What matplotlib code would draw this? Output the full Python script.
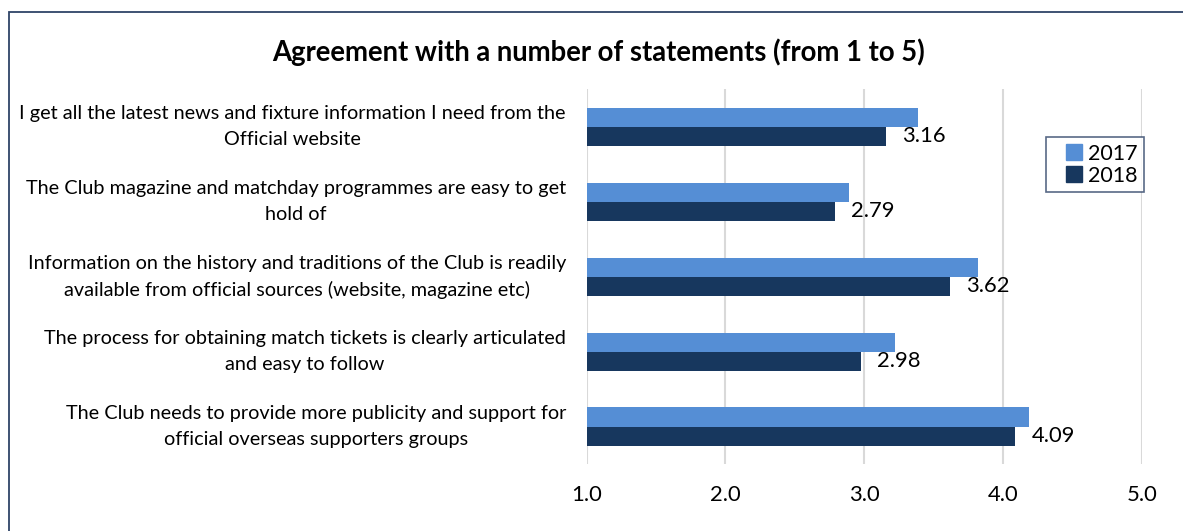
import numpy as np
import matplotlib
matplotlib.use("Agg")
import matplotlib.pyplot as plt
from matplotlib.patches import Rectangle
from matplotlib.lines import Line2D

statements = [
    "I get all the latest news and fixture information I need from the\nOfficial website",
    "The Club magazine and matchday programmes are easy to get\nhold of",
    "Information on the history and traditions of the Club is readily\navailable from official sources (website, magazine etc)",
    "The process for obtaining match tickets is clearly articulated\nand easy to follow",
    "The Club needs to provide more publicity and support for\nofficial overseas supporters groups",
]
scores_2017 = [3.39, 2.89, 3.82, 3.22, 4.19]
scores_2018 = [3.16, 2.79, 3.62, 2.98, 4.09]
ticks = [1.0, 2.0, 3.0, 4.0, 5.0]
years = ["2017", "2018"]
colors = ["#558ED5", "#17375E"]

plt.rcParams['font.family'] = ['Lato', 'DejaVu Sans']

fig = plt.figure(figsize=(11.83, 5.31), dpi=100)
ax = fig.add_axes([0.496, 0.126, 0.469, 0.706])

# frame around the whole chart
fig.patches.append(Rectangle((9/1183, -0.05), 1.1, (531-12)/531 + 0.05,
                             transform=fig.transFigure, fill=False,
                             edgecolor="#2F4468", linewidth=1.3))

y = np.arange(len(statements))
h = 0.255
ax.barh(y - h/2, scores_2017, height=h, color=colors[0], zorder=3)
bars18 = ax.barh(y + h/2, scores_2018, height=h, color=colors[1], zorder=3)

for b, v in zip(bars18, scores_2018):
    ax.text(v + 0.115, b.get_y() + b.get_height()/2, "%.2f" % v,
            va="center", ha="left", fontsize=15.8, color="black")

ax.set_xlim(1, 5)
ax.set_ylim(4.5, -0.5)
ax.set_xticks(ticks)
ax.set_xticklabels(["%.1f" % t for t in ticks], fontsize=15.8)
ax.set_yticks(y)
ax.set_yticklabels(statements, fontsize=14.3, multialignment="center",
                   linespacing=1.6)
for lbl in ax.get_yticklabels():
    lbl.set_va("center")
ax.tick_params(axis="both", length=0)
ax.tick_params(axis="x", pad=15)
ax.tick_params(axis="y", pad=15)
ax.grid(axis="x", color="#D9D9D9", linewidth=1.5, zorder=0)
for s in ax.spines.values():
    s.set_visible(False)

handles = [Line2D([], [], marker="s", linestyle="none", markersize=11,
                  color=c) for c in colors]
leg = ax.legend(handles, years, loc="upper left", bbox_to_anchor=(0.828, 0.872),
                fontsize=15.5, frameon=True, fancybox=False, handlelength=1.95,
                handletextpad=-0.3, borderpad=0.3, labelspacing=0.1,
                borderaxespad=0)
leg.get_frame().set_edgecolor("#2F4468")
leg.get_frame().set_linewidth(1.2)

fig.text(0.506, 0.902, "Agreement with a number of statements (from 1 to 5)",
         ha="center", va="center", fontsize=19.8, fontweight="bold")

fig.savefig("out.png", dpi=100)
